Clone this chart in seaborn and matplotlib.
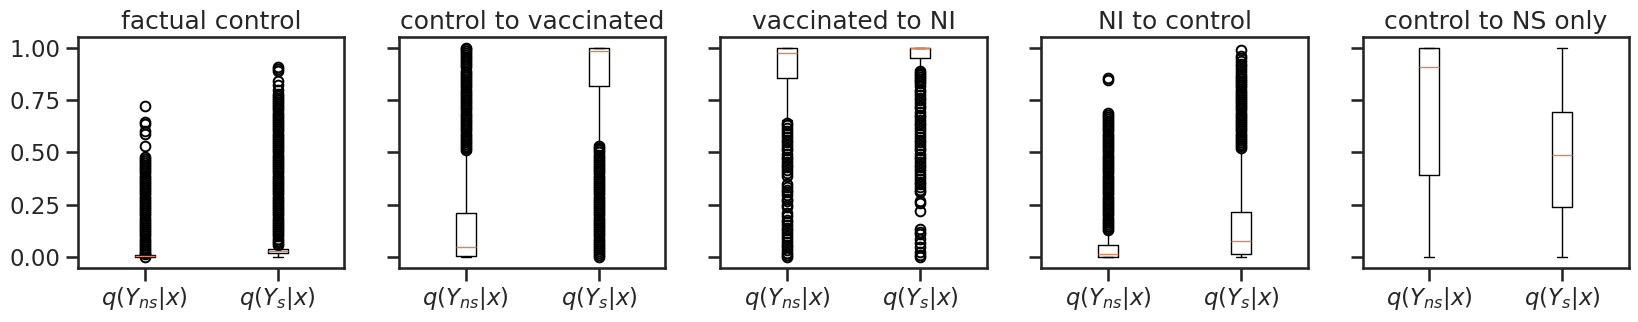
import numpy as np
import matplotlib
matplotlib.use('Agg')
import matplotlib.pyplot as plt
import seaborn as sns

sns.set_theme(style='ticks', context='talk')

# --- data ---
titles = ['factual control', 'control to vaccinated', 'vaccinated to NI',
          'NI to control', 'control to NS only']
labels = [r'$q(Y_{ns}|x)$', r'$q(Y_s|x)$']

# per panel: [ns, s]
q1 = [[0.0, 0.022], [0.006, 0.815], [0.855, 0.95], [0.0, 0.016], [0.394, 0.238]]
med = [[0.006, 0.03], [0.05, 0.985], [0.975, 0.997], [0.016, 0.08], [0.905, 0.489]]
q3 = [[0.01, 0.04], [0.21, 1.0], [1.0, 1.0], [0.06, 0.217], [1.0, 0.694]]
whislo = [[0.0, 0.0], [0.0, 0.54], [0.655, 0.90], [0.0, 0.0], [0.0, 0.0]]
whishi = [[0.014, 0.055], [0.50, 1.0], [1.0, 1.0], [0.125, 0.51], [1.0, 1.0]]

fc_ns_fliers = [0.72, 0.645, 0.635, 0.60, 0.59, 0.53, 0.48, 0.47, 0.46, 0.45,
                0.44, 0.43, 0.42, 0.41, 0.40, 0.39, 0.38, 0.37, 0.36, 0.35,
                0.34, 0.33, 0.32, 0.31, 0.30, 0.29, 0.28, 0.27, 0.26, 0.25,
                0.24, 0.23, 0.22, 0.21, 0.20, 0.19, 0.18, 0.17, 0.16, 0.15,
                0.14, 0.13, 0.12, 0.11, 0.10, 0.09, 0.08, 0.07, 0.06, 0.05,
                0.04, 0.03, 0.02, 0.015, 0.0]
fc_s_fliers = [0.905, 0.90, 0.89, 0.84, 0.82, 0.80, 0.78, 0.77, 0.76, 0.75,
               0.74, 0.73, 0.72, 0.71, 0.70, 0.69, 0.68, 0.67, 0.66, 0.65,
               0.64, 0.63, 0.62, 0.61, 0.60, 0.59, 0.58, 0.57, 0.56, 0.55,
               0.54, 0.53, 0.52, 0.51, 0.50, 0.49, 0.48, 0.47, 0.46, 0.45,
               0.44, 0.43, 0.42, 0.41, 0.40, 0.39, 0.38, 0.37, 0.36, 0.35,
               0.34, 0.33, 0.32, 0.31, 0.30, 0.29, 0.28, 0.27, 0.26, 0.25,
               0.24, 0.23, 0.22, 0.21, 0.20, 0.19, 0.18, 0.17, 0.16, 0.15,
               0.14, 0.13, 0.12, 0.11, 0.10, 0.09, 0.08, 0.07, 0.06]
cv_ns_fliers = [1.0, 0.995, 0.985, 0.975, 0.965, 0.955, 0.945, 0.935, 0.925, 0.915,
                0.905, 0.89, 0.88, 0.87, 0.86, 0.85, 0.84, 0.83, 0.82, 0.81,
                0.80, 0.79, 0.78, 0.77, 0.76, 0.75, 0.74, 0.73, 0.72, 0.71,
                0.70, 0.69, 0.68, 0.67, 0.66, 0.65, 0.64, 0.63, 0.62, 0.61,
                0.60, 0.59, 0.58, 0.57, 0.56, 0.55, 0.54, 0.53, 0.52, 0.51]
cv_s_fliers = [0.53, 0.52, 0.51, 0.50, 0.49, 0.48, 0.47, 0.46, 0.45, 0.44,
               0.43, 0.42, 0.41, 0.40, 0.39, 0.38, 0.37, 0.36, 0.35, 0.34,
               0.33, 0.32, 0.31, 0.30, 0.29, 0.28, 0.27, 0.26, 0.25, 0.24,
               0.23, 0.22, 0.21, 0.20, 0.19, 0.18, 0.17, 0.16, 0.15, 0.14,
               0.13, 0.12, 0.11, 0.10, 0.09, 0.08, 0.07, 0.06, 0.05, 0.04,
               0.03, 0.02, 0.01, 0.0]
vn_ns_fliers = [0.64, 0.63, 0.615, 0.60, 0.59, 0.575, 0.56, 0.55, 0.535, 0.52,
                0.51, 0.495, 0.48, 0.47, 0.455, 0.44, 0.43, 0.415, 0.40, 0.39,
                0.35, 0.335, 0.32, 0.31, 0.295, 0.28, 0.27, 0.25, 0.24,
                0.21, 0.195, 0.18, 0.17, 0.155, 0.14, 0.13, 0.115, 0.10, 0.09,
                0.075, 0.06, 0.05, 0.035, 0.02, 0.01, 0.0]
vn_s_fliers = [0.89, 0.88, 0.87, 0.86, 0.85, 0.84, 0.83, 0.815, 0.80, 0.79,
               0.775, 0.76, 0.75, 0.735, 0.72, 0.71, 0.695, 0.68, 0.67, 0.655,
               0.64, 0.63, 0.615, 0.60, 0.59, 0.575, 0.56, 0.55, 0.535, 0.52,
               0.51, 0.495, 0.48, 0.47, 0.455, 0.44, 0.43, 0.415, 0.40, 0.39,
               0.375, 0.36, 0.35, 0.335, 0.32, 0.31, 0.27, 0.26, 0.222,
               0.135, 0.12, 0.11, 0.087, 0.07, 0.048, 0.025, 0.01, 0.0]
nc_ns_fliers = [0.855, 0.845, 0.69, 0.68, 0.67, 0.66, 0.65, 0.64, 0.63, 0.62,
                0.61, 0.60, 0.59, 0.58, 0.57, 0.56, 0.55, 0.54, 0.53, 0.52,
                0.51, 0.50, 0.49, 0.48, 0.47, 0.46, 0.45, 0.44, 0.43, 0.42,
                0.41, 0.40, 0.39, 0.38, 0.37, 0.36, 0.35, 0.34, 0.33, 0.32,
                0.31, 0.30, 0.29, 0.28, 0.27, 0.26, 0.25, 0.24, 0.23, 0.22,
                0.21, 0.20, 0.19, 0.18, 0.17, 0.16, 0.15, 0.14, 0.13]
nc_s_fliers = [0.99, 0.96, 0.95, 0.935, 0.92, 0.91, 0.90, 0.885, 0.87, 0.86,
               0.85, 0.84, 0.83, 0.82, 0.81, 0.80, 0.79, 0.78, 0.77, 0.76,
               0.75, 0.74, 0.73, 0.72, 0.71, 0.70, 0.69, 0.68, 0.67, 0.66,
               0.65, 0.64, 0.63, 0.62, 0.61, 0.60, 0.59, 0.58, 0.57, 0.56,
               0.55, 0.54, 0.53, 0.52]
ns_fliers = [fc_ns_fliers, cv_ns_fliers, vn_ns_fliers, nc_ns_fliers, []]
s_fliers = [fc_s_fliers, cv_s_fliers, vn_s_fliers, nc_s_fliers, []]

# --- plotting ---
fig, axes = plt.subplots(1, 5, figsize=(16.38, 3.22), dpi=100, sharey=True)
plt.subplots_adjust(left=0.0476, right=0.9945, top=0.885, bottom=0.168, wspace=0.206)

flier_style = dict(marker='o', markersize=7, markeredgewidth=1.4,
                   markerfacecolor='none', markeredgecolor='black')

for i, ax in enumerate(axes):
    stats = []
    for j, fl in enumerate([ns_fliers[i], s_fliers[i]]):
        stats.append({'label': labels[j], 'med': med[i][j], 'q1': q1[i][j], 'q3': q3[i][j],
                      'whislo': whislo[i][j], 'whishi': whishi[i][j], 'fliers': fl})
    ax.bxp(stats, positions=[1, 2], flierprops=flier_style)
    ax.set_title(titles[i])

axes[0].set_ylim(-0.05, 1.05)
axes[0].set_yticks([0.0, 0.25, 0.5, 0.75, 1.0])
axes[0].set_yticklabels(['0.00', '0.25', '0.50', '0.75', '1.00'])

plt.savefig('out.png', dpi=100)
